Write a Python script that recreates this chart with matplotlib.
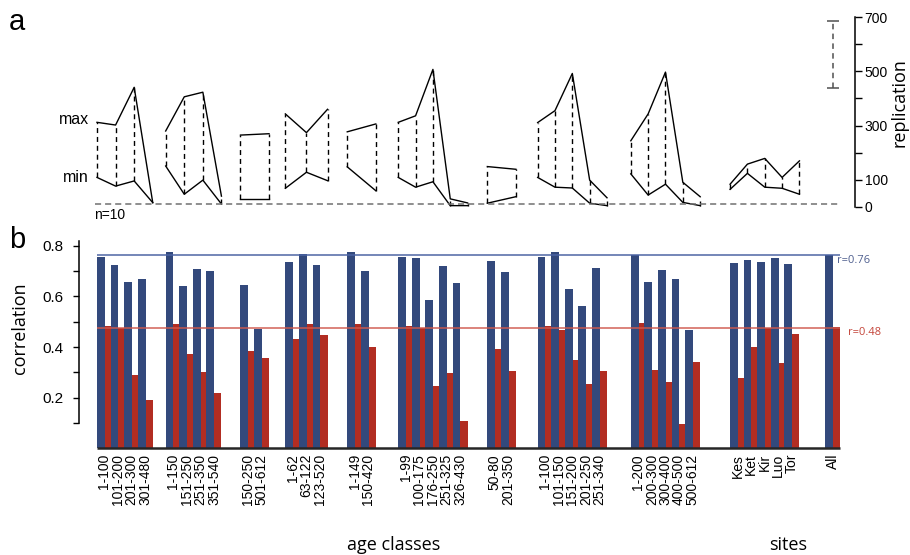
import matplotlib
matplotlib.use("Agg")
import matplotlib.pyplot as plt
import numpy as np

plt.rcParams['font.family'] = ['Liberation Sans', 'DejaVu Sans']

# ---------------- data ----------------
age_labels = [
    ["1-100", "101-200", "201-300", "301-480"],
    ["1-150", "151-250", "251-350", "351-540"],
    ["150-250", "501-612"],
    ["1-62", "63-122", "123-520"],
    ["1-149", "150-420"],
    ["1-99", "100-175", "176-250", "251-325", "326-430"],
    ["50-80", "201-350"],
    ["1-100", "101-150", "151-200", "201-250", "251-340"],
    ["1-200", "200-300", "300-400", "400-500", "500-612"],
    ["Kes", "Ket", "Kir", "Luo", "Tor"],
    ["All"],
]
corr_blue = [
    [0.756, 0.724, 0.657, 0.669],
    [0.777, 0.641, 0.710, 0.700],
    [0.645, 0.471],
    [0.737, 0.767, 0.724],
    [0.777, 0.700],
    [0.756, 0.752, 0.586, 0.720, 0.653],
    [0.740, 0.696],
    [0.756, 0.775, 0.629, 0.562, 0.712],
    [0.764, 0.657, 0.704, 0.669, 0.467],
    [0.732, 0.744, 0.736, 0.752, 0.728],
    [0.764],
]
corr_red = [
    [0.484, 0.475, 0.290, 0.192],
    [0.492, 0.373, 0.302, 0.219],
    [0.386, 0.357],
    [0.432, 0.492, 0.448],
    [0.492, 0.400],
    [0.484, 0.475, 0.246, 0.298, 0.108],
    [0.392, 0.305],
    [0.483, 0.467, 0.349, 0.254, 0.305],
    [0.495, 0.309, 0.262, 0.096, 0.341],
    [0.278, 0.400, 0.475, 0.338, 0.452],
    [0.480],
]
rep_max = [
    [312, 302, 441, 16],
    [280, 406, 423, 40],
    [265, 270],
    [343, 274, 360],
    [277, 306],
    [312, 336, 507, 30, 15],
    [149, 139],
    [311, 355, 492, 99, 34],
    [244, 343, 497, 91, 38],
    [84, 158, 179, 109, 170],
]
rep_min = [
    [109, 77, 96, 16],
    [151, 47, 99, 11],
    [28, 28],
    [69, 128, 97],
    [148, 60],
    [109, 73, 93, 5, 5],
    [14, 38],
    [109, 73, 70, 14, 5],
    [122, 44, 84, 17, 5],
    [65, 124, 73, 69, 47],
]
all_range = [440, 685]
n_line = 10
r_blue = 0.762
r_red = 0.475
r_blue_text = "r=0.76"
r_red_text = "r=0.48"
rep_ticks = [0, 100, 200, 300, 400, 500, 600, 700]
rep_ticklabels = ["0", "100", "", "300", "", "500", "", "700"]
corr_ticks = [0.1, 0.2, 0.3, 0.4, 0.5, 0.6, 0.7, 0.8]
corr_ticklabels = ["", "0.2", "", "0.4", "", "0.6", "", "0.8"]

# ---------------- layout ----------------
W, H = 910, 555
PITCH = 13.6          # px per bar pair
X0 = 97               # px of first bar
gaps = [1.05, 1.5, 1.3, 1.55, 1.75, 1.55, 1.7, 1.85, 2.3, 2.0]
BLUE_W = 0.57
RED_W = 0.53
PAIR_SPAN = BLUE_W + RED_W
BLUE_C = '#33497c'
RED_C = '#b22d22'

fig = plt.figure(figsize=(W / 100, H / 100), dpi=100)


def fx(px):
    return px / W


def fy(py):
    return 1 - py / H


def xl(px):
    return (px - X0) / PITCH


# group start positions (in pair units)
starts = []
u = 0.0
for k, grp in enumerate(age_labels):
    if k > 0:
        u += len(age_labels[k - 1]) + gaps[k - 1]
    starts.append(u)
end_u = starts[-1] + PAIR_SPAN

# ---------------- panel b ----------------
Y0B, SCB, TOPB = 448.4, 253.3, 233.0
ax_b = fig.add_axes([fx(79), fy(Y0B), fx(845) - fx(79), (Y0B - TOPB) / H])
ax_b.set_xlim(xl(79), xl(845))
ax_b.set_ylim(0, (Y0B - TOPB) / SCB)

centers, labels = [], []
for k, grp in enumerate(age_labels):
    pos = starts[k] + np.arange(len(grp))
    ax_b.bar(pos, corr_blue[k], width=BLUE_W, align='edge', color=BLUE_C, zorder=3, linewidth=0)
    ax_b.bar(pos + BLUE_W, corr_red[k], width=RED_W, align='edge', color=RED_C, zorder=2, linewidth=0)
    centers.extend(pos + PAIR_SPAN / 2)
    labels.extend(grp)

ax_b.hlines(r_blue, 0, end_u, colors='#4a63a3', lw=1.2, zorder=5, alpha=0.9)
ax_b.hlines(r_red, 0, end_u, colors='#d0594d', lw=1.3, zorder=5, alpha=0.8)
ax_b.hlines(0, 0, end_u, colors='#262626', lw=1.8, zorder=6, clip_on=False)

ax_b.annotate(r_blue_text, (end_u, r_blue), xytext=(-3, -8), textcoords='offset pixels',
              fontsize=8, family=['Open Sans', 'DejaVu Sans'], color='#4f5f8f', va='baseline', ha='left',
              annotation_clip=False)
ax_b.annotate(r_red_text, (end_u, r_red), xytext=(8, -7), textcoords='offset pixels',
              fontsize=8, family=['Open Sans', 'DejaVu Sans'], color='#c4453a', va='baseline', ha='left',
              annotation_clip=False)

for s in ['top', 'right', 'bottom']:
    ax_b.spines[s].set_visible(False)
ax_b.spines['left'].set_bounds(0.1, 0.82)
ax_b.spines['left'].set_linewidth(1.1)
ax_b.set_yticks(corr_ticks)
ax_b.set_yticklabels(corr_ticklabels)
ax_b.tick_params(axis='y', direction='out', length=4, width=1.0, pad=7, labelsize=11)
ax_b.set_xticks(centers)
ax_b.set_xticklabels(labels, rotation=90, fontsize=10)
ax_b.tick_params(axis='x', length=0, pad=4)

# ---------------- panel a ----------------
Y0A, SCA = 207.0, 0.2714
ax_a = fig.add_axes([fx(79), fy(215), fx(855) - fx(79), (215 - 5) / H])
ax_a.set_xlim(xl(79), xl(855))
ax_a.set_ylim(-(215 - Y0A) / SCA, (Y0A - 5) / SCA)

for k in range(len(rep_max)):
    n = len(rep_max[k])
    xs = np.linspace(starts[k], starts[k] + n - 1 + PAIR_SPAN, n)
    ax_a.plot(xs, rep_max[k], color='k', lw=1.0)
    ax_a.plot(xs, rep_min[k], color='k', lw=1.0)
    ax_a.vlines(xs, rep_min[k], rep_max[k], colors='k', lw=1.0, linestyles=(0, (3.6, 2.8)))

ax_a.hlines(n_line, -0.15, end_u, colors='#707070', lw=1.1, linestyles=(0, (4, 2.6)))
xa = starts[-1] + PAIR_SPAN / 2
ax_a.vlines(xa, all_range[0], all_range[1], colors='#505050', lw=1.1, linestyles=(0, (3.6, 2.8)))
ax_a.hlines(all_range, xa - 0.45, xa + 0.45, colors='#505050', lw=1.1)

x_first = starts[0]
ax_a.annotate("max", (x_first, rep_max[0][0]), xytext=(-8, -2), textcoords='offset pixels',
              ha='right', va='baseline', fontsize=11.5)
ax_a.annotate("min", (x_first, rep_min[0][0]), xytext=(-8, -5), textcoords='offset pixels',
              ha='right', va='baseline', fontsize=11.5)
ax_a.annotate("n=10", (-0.15, n_line), xytext=(-1, -15), textcoords='offset pixels',
              ha='left', va='baseline', fontsize=10, annotation_clip=False)

for s in ['top', 'left', 'bottom']:
    ax_a.spines[s].set_visible(False)
ax_a.spines['right'].set_bounds(0, 700)
ax_a.spines['right'].set_linewidth(1.1)
ax_a.set_xticks([])
ax_a.yaxis.tick_right()
ax_a.set_yticks(rep_ticks)
ax_a.set_yticklabels(rep_ticklabels)
ax_a.tick_params(axis='y', direction='out', length=5, width=1.0, pad=2, labelsize=10)

# ---------------- labels ----------------
hum = ['Open Sans', 'DejaVu Sans']
fig.text(fx(9), fy(30), "a", fontsize=21, va='baseline', ha='left')
fig.text(fx(9), fy(248), "b", fontsize=21, va='baseline', ha='left')
fig.text(fx(25), fy(328.5), "correlation", rotation=90, rotation_mode='anchor',
         ha='center', va='baseline', fontsize=13, family=hum)
fig.text(fx(904), fy(103), "replication", rotation=90, rotation_mode='anchor',
         ha='center', va='baseline', fontsize=13, family=hum)
fig.text(fx(394), fy(550), "age classes", ha='center', va='baseline', fontsize=13, family=hum)
fig.text(fx(788), fy(550), "sites", ha='center', va='baseline', fontsize=13, family=hum)

fig.savefig("out.png", dpi=100)
